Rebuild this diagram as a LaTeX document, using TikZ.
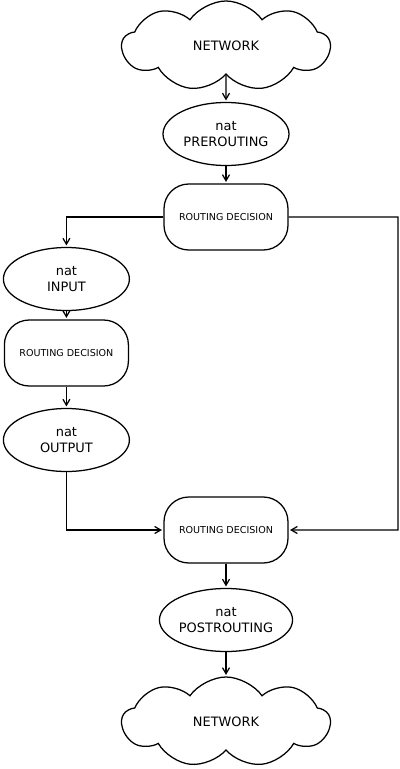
\documentclass[tikz,border=0pt]{standalone}
\usepackage{fontspec}
\setmainfont{DejaVu Sans}
\usetikzlibrary{arrows,shapes.geometric,shapes.symbols}

\begin{document}
\begin{tikzpicture}[->,>=angle 60,shorten >=1pt,auto,node distance=2.2cm,
				line width=0.9pt,
				net node/.style={cloud,draw,cloud puffs=9,cloud puff arc=110,aspect=2.3,minimum width=5.2cm,minimum height=2.25cm,font=\fontsize{9.2}{11.7}\selectfont},
				nat node/.style={ellipse,draw,align=center,inner xsep=0pt,minimum width=3.15cm,minimum height=1.575cm,font=\fontsize{9.2}{11.7}\selectfont},
				route node/.style={rectangle,draw,rounded corners=0.62cm,minimum width=3.1cm,minimum height=1.65cm,font=\fontsize{6.8}{8}\selectfont}]
				
				\useasboundingbox (0,0) rectangle (10,-19.225);
				
				\node[net node] (netin) at (5.65,-1.15) {NETWORK};
				\node[nat node] (pre) [below of=netin] {nat\\PREROUTING};
				\node[route node] (route1) [below of=pre,node distance=2.075cm] {ROUTING DECISION};
				\node[nat node] (input) at (1.66,-6.975) {nat\\INPUT};
				\node[route node] (route2) [below of=input,node distance=1.85cm] {ROUTING DECISION};
				\node[nat node] (output) [below of=route2,node distance=2.175cm] {nat\\OUTPUT};
				\node[route node] (route3) [below of=route1,node distance=7.825cm] {ROUTING DECISION};
				\node[nat node] (post) [below of=route3,node distance=2.25cm] {nat\\POSTROUTING};
				\node[net node] (netout) [below of=post,node distance=2.55cm] {NETWORK};
				\coordinate (far) at (9.95,-13.25);
				
				\path
				(netin) edge (pre)
				(pre) edge (route1)
				(input) edge (route2)
				(route2) edge (output)
				(route3) edge (post)
				(post) edge (netout)
				;
				\draw (route1) -| (input);
				\draw (route1.east) -| (far) -- (route3.east);
				\draw (output) |- (route3);
				\end{tikzpicture}
\end{document}
